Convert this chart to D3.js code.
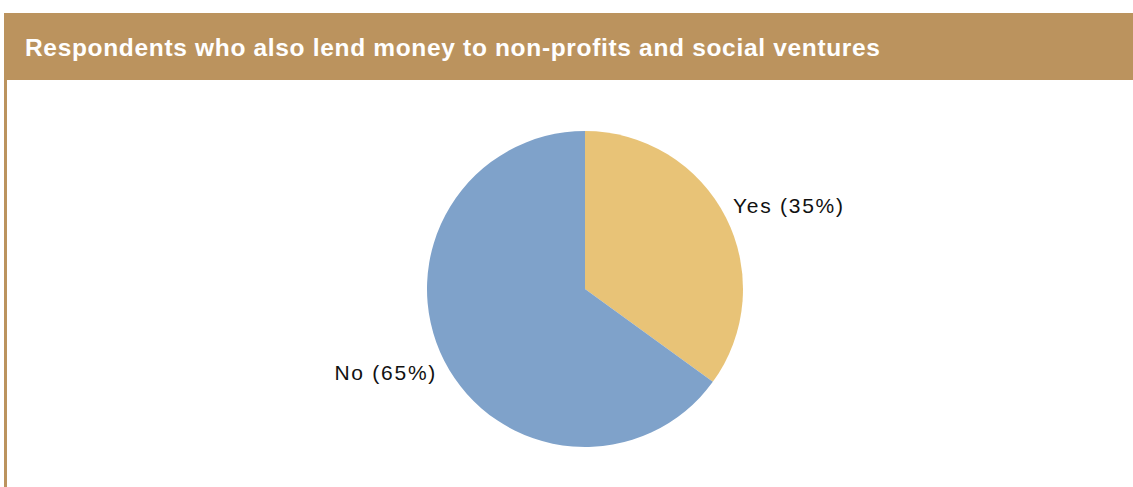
<!DOCTYPE html>
<html>
<head>
<meta charset="utf-8">
<script src="https://cdn.jsdelivr.net/npm/d3@7"></script>
<style>
  html, body { margin: 0; padding: 0; background: #fff; }
  svg { display: block; }
</style>
</head>
<body>
<svg id="chart" width="1133" height="487"></svg>
<script>
// Survey answers, in drawing order (clockwise from 12 o'clock)
const answers = ["Yes", "No"];
const shares = [35, 65];
const sliceColors = ["#E8C377", "#7FA2CA"];
const title = "Respondents who also lend money to non-profits and social ventures";

const svg = d3.select("#chart");
const W = 1133, H = 487;
const gold = "#BB935E";

// Title band and left rule
svg.append("rect").attr("x", 4).attr("y", 13).attr("width", W - 4).attr("height", 67).attr("fill", gold);
svg.append("rect").attr("x", 4).attr("y", 80).attr("width", 3).attr("height", H - 80).attr("fill", gold);
svg.append("text")
  .attr("x", 25).attr("y", 56)
  .attr("fill", "#fff")
  .attr("font-family", "Liberation Sans, Arial, sans-serif")
  .attr("font-weight", "bold")
  .attr("font-size", 24.5)
  .attr("textLength", 855)
  .attr("lengthAdjust", "spacing")
  .text(title);

// Pie
const cx = 585, cy = 289, r = 158;
const data = answers.map((a, i) => ({ answer: a, share: shares[i], color: sliceColors[i] }));
const pie = d3.pie().value(d => d.share).sort(null);
const arc = d3.arc().innerRadius(0).outerRadius(r);

// Labels sit just outside the rim, spread a little more vertically
const labelRx = 166, labelRy = 184;
const labelPos = d => {
  const mid = (d.startAngle + d.endAngle) / 2;
  return [labelRx * Math.sin(mid), -labelRy * Math.cos(mid)];
};

const g = svg.append("g").attr("transform", `translate(${cx},${cy})`);
const arcs = pie(data);

g.selectAll("path.slice").data(arcs).join("path")
  .attr("class", "slice")
  .attr("d", arc)
  .attr("fill", d => d.data.color);

g.selectAll("text.lbl").data(arcs).join("text")
  .attr("class", "lbl")
  .attr("transform", d => `translate(${labelPos(d)})`)
  .attr("text-anchor", d => ((d.startAngle + d.endAngle) / 2 < Math.PI ? "start" : "end"))
  .attr("dy", "0.35em")
  .attr("font-family", "Liberation Sans, Arial, sans-serif")
  .attr("font-size", 21)
  .attr("letter-spacing", 1.75)
  .attr("fill", "#111")
  .text(d => `${d.data.answer} (${d.data.share}%)`);
</script>
</body>
</html>
